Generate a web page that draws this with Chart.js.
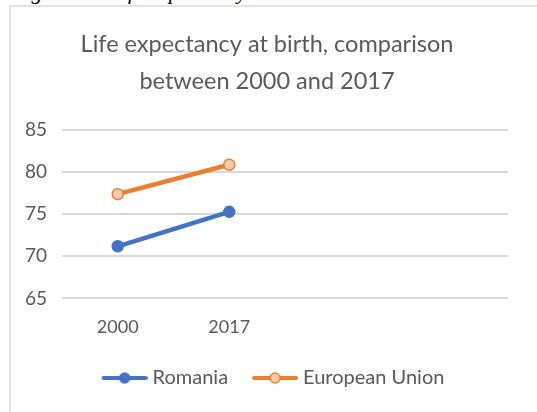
<!DOCTYPE html>
<html>
<head>
<meta charset="utf-8">
<script src="https://cdn.jsdelivr.net/npm/chart.js@4/dist/chart.umd.min.js"></script>
<style>
  html, body { margin: 0; padding: 0; background: #fff; }
  #caption {
    position: absolute; left: 12px; top: -21px; width: 537px; height: 25px;
    font: italic 22px "Liberation Serif", serif; color: #000; white-space: nowrap;
    overflow: hidden;
  }
  #frame {
    position: absolute; left: 9px; top: 5px; width: 540px; height: 420px;
    border: 2px solid #e3e3e3; box-sizing: border-box;
  }
  #wrap { position: absolute; left: 0; top: 0; width: 537px; height: 412px; }
</style>
</head>
<body>
<div id="caption">Figure 10. Life expectancy at birth</div>
<div id="frame"></div>
<div id="wrap"><canvas id="grafico"></canvas></div>
<script>
  // datos
  const anios = ["2000", "2017", "", ""];
  const romania = [71.2, 75.3, null, null];
  const unionEuropea = [77.4, 80.9, null, null];
  const ticksY = [65, 70, 75, 80, 85];

  const azul = "#4472C4";
  const naranja = "#ED7D31";
  const gris = "#595959";

  // icono de leyenda: linea con marcador circular, con margen libre a la izquierda
  const margenIcono = 17;
  function iconoLeyenda(color, relleno) {
    let c = document.createElement("canvas");
    c.width = 46 + margenIcono;
    c.height = 14;
    let ctx = c.getContext("2d");
    ctx.translate(margenIcono, 0);
    ctx.strokeStyle = color;
    ctx.lineWidth = 4;
    ctx.lineCap = "round";
    ctx.beginPath();
    ctx.moveTo(2, 7);
    ctx.lineTo(44, 7);
    ctx.stroke();
    ctx.beginPath();
    ctx.arc(23, 7, 5, 0, Math.PI * 2);
    ctx.fillStyle = relleno;
    ctx.fill();
    ctx.lineWidth = 1.5;
    ctx.stroke();
    return c;
  }

  let ctx = document.getElementById("grafico").getContext("2d");
  new Chart(ctx, {
    type: "line",
    data: {
      labels: anios,
      datasets: [
        {
          label: "Romania",
          data: romania,
          borderColor: azul,
          backgroundColor: azul,
          borderWidth: 4.5,
          pointRadius: 5.5,
          pointBackgroundColor: azul,
          pointBorderColor: azul,
          pointBorderWidth: 1.5,
          pointStyle: "circle",
        },
        {
          label: "European Union",
          data: unionEuropea,
          borderColor: naranja,
          backgroundColor: naranja,
          borderWidth: 4.5,
          pointRadius: 5.5,
          pointBackgroundColor: "#F8CBAD",
          pointBorderColor: naranja,
          pointBorderWidth: 1.5,
          pointStyle: "circle",
        },
      ],
    },
    options: {
      responsive: true,
      maintainAspectRatio: false,
      animation: false,
      layout: { padding: { left: 26, right: 29, top: 26, bottom: 14 } },
      plugins: {
        tooltip: { enabled: false },
        title: {
          display: true,
          text: ["Life expectancy at birth, comparison", "between 2000 and 2017"],
          color: gris,
          font: { family: "Lato", size: 23.5, weight: "normal", lineHeight: 1.58 },
          padding: { top: 0, bottom: 30 },
        },
        legend: {
          position: "bottom",
          labels: {
            color: gris,
            font: { family: "Lato", size: 20 },
            usePointStyle: true,
            pointStyleWidth: 36 + margenIcono,
            padding: 12,
            generateLabels: function () {
              return [
                { text: "Romania", pointStyle: iconoLeyenda(azul, azul), fontColor: gris, strokeStyle: azul, lineWidth: 0 },
                { text: "European Union", pointStyle: iconoLeyenda(naranja, "#F8CBAD"), fontColor: gris, strokeStyle: naranja, lineWidth: 0 },
              ];
            },
          },
        },
      },
      scales: {
        x: {
          offset: true,
          grid: { display: false, drawTicks: false },
          border: { display: false },
          ticks: { color: gris, font: { family: "Lato", size: 18 }, padding: 18 },
        },
        y: {
          min: 65,
          max: 85,
          afterBuildTicks: function (eje) {
            eje.ticks = ticksY.map((v) => ({ value: v }));
          },
          afterFit: function (eje) {
            eje.width = 36;
          },
          grid: { color: "#d9d9d9", lineWidth: 2, drawTicks: false },
          border: { display: false },
          ticks: { color: gris, font: { family: "Lato", size: 19 }, padding: 15 },
        },
      },
    },
  });
</script>
</body>
</html>
